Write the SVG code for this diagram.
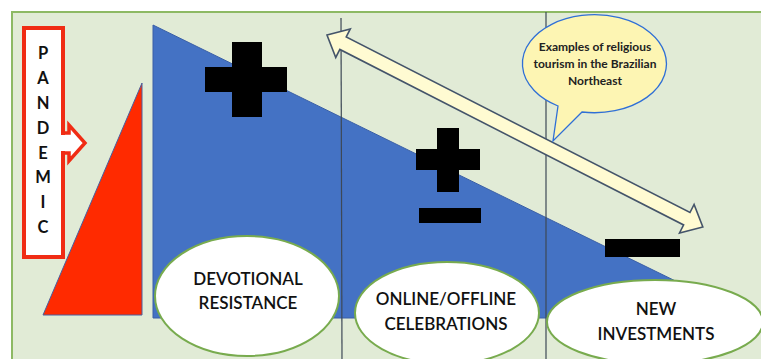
<svg xmlns="http://www.w3.org/2000/svg" width="761" height="359" viewBox="0 0 761 359">
  <style>
    .frame { fill: #e1ebd6; stroke: #8db964; stroke-width: 2; }
    .divider { stroke: #3d4856; stroke-width: 1.2; }
    .sign { fill: #000000; }
    .stage { fill: #ffffff; stroke: #78ab4e; stroke-width: 2; }
    .label { font-family: Lato, "Liberation Sans", sans-serif; font-size: 17px; font-weight: 600; fill: #111111; text-anchor: middle; }
    .letter { font-family: Lato, "Liberation Sans", sans-serif; font-size: 16.5px; font-weight: 700; fill: #111111; text-anchor: middle; }
    .note { font-family: Lato, "Liberation Sans", sans-serif; font-size: 12px; font-weight: 700; fill: #222222; text-anchor: middle; }
  </style>

  <!-- page -->
  <rect x="0" y="0" width="761" height="359" fill="#ffffff"/>
  <rect class="frame" x="12" y="12" width="760" height="360"/>

  <!-- pandemic wedge -->
  <g id="pandemic-wedge">
    <polygon points="43,315 142,315 142,83" fill="#ff2a00" stroke="#4a5f9e" stroke-width="1"/>
  </g>

  <!-- pandemic label box with arrow -->
  <g id="pandemic">
    <path d="M63,133 L69,133 L69,125 L85,143 L69,161 L69,153 L63,153" fill="#ffffff" stroke="#f02c14" stroke-width="3.5" stroke-linejoin="miter"/>
    <rect x="24" y="28" width="39" height="229" fill="#ffffff" stroke="#f02c14" stroke-width="4"/>
    <rect x="60" y="135" width="6" height="16" fill="#ffffff"/>
    <text class="letter" x="43" y="59">P</text>
    <text class="letter" x="43" y="84">A</text>
    <text class="letter" x="43" y="109">N</text>
    <text class="letter" x="43" y="134">D</text>
    <text class="letter" x="43" y="159">E</text>
    <text class="letter" x="43" y="183">M</text>
    <text class="letter" x="43" y="208">I</text>
    <text class="letter" x="43" y="233">C</text>
  </g>

  <!-- declining intensity wedge -->
  <g id="decline-wedge">
    <polygon points="153,25 153,318 751,318" fill="#4472c4" stroke="#3a5fa6" stroke-width="1"/>
  </g>

  <!-- phase dividers -->
  <g id="dividers">
    <line class="divider" x1="341" y1="18" x2="342" y2="359"/>
    <line class="divider" x1="546" y1="12" x2="546" y2="359"/>
  </g>

  <!-- intensity signs -->
  <g id="sign-plus">
    <rect class="sign" x="232" y="42" width="30" height="75"/>
    <rect class="sign" x="205" y="67" width="82" height="25"/>
  </g>
  <g id="sign-plus-minus">
    <rect class="sign" x="437" y="128" width="22" height="64"/>
    <rect class="sign" x="416" y="149" width="64" height="21"/>
    <rect class="sign" x="419" y="208" width="62" height="15"/>
  </g>
  <g id="sign-minus">
    <rect class="sign" x="605" y="239" width="75" height="18"/>
  </g>

  <!-- connectors -->
  <g id="connectors">
    <g transform="translate(327,35) rotate(27.05)">
      <polygon points="0,0 18,-16 18,-7 404,-7 404,-16 422,0 404,16 404,7 18,7 18,16" fill="#fffbd2" stroke="#44546a" stroke-width="1.6" stroke-linejoin="miter"/>
    </g>
  </g>

  <!-- callout -->
  <g id="callout">
    <path d="M558,106 A72,49 0 1 1 582,112 L553,141 Z" fill="#fdf5b3" stroke="#2f6fd6" stroke-width="1.3"/>
    <text class="note" x="595" y="51">Examples of religious</text>
    <text class="note" x="595" y="68">tourism in the Brazilian</text>
    <text class="note" x="595" y="85">Northeast</text>
  </g>

  <!-- stages -->
  <g id="stage-devotional">
    <ellipse class="stage" cx="247" cy="296" rx="92" ry="60"/>
    <text class="label" x="248" y="285">DEVOTIONAL</text>
    <text class="label" x="248" y="309">RESISTANCE</text>
  </g>
  <g id="stage-celebrations">
    <ellipse class="stage" cx="447" cy="313" rx="92" ry="51"/>
    <text class="label" x="446" y="305">ONLINE/OFFLINE</text>
    <text class="label" x="446" y="330">CELEBRATIONS</text>
  </g>
  <g id="stage-investments">
    <ellipse class="stage" cx="655" cy="322" rx="108" ry="42"/>
    <text class="label" x="656" y="315">NEW</text>
    <text class="label" x="656" y="340">INVESTMENTS</text>
  </g>
</svg>
